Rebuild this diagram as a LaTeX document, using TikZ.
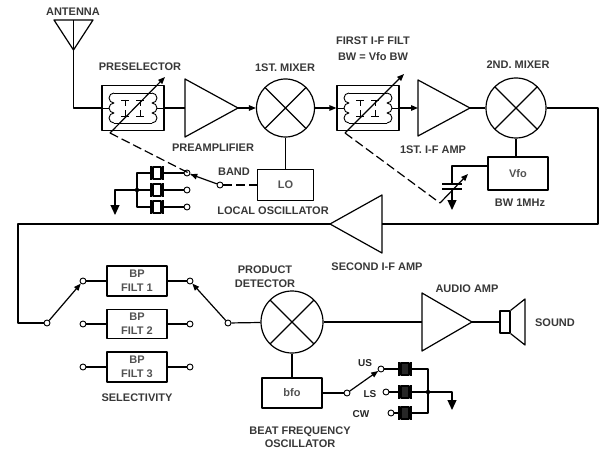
\documentclass[tikz,border=0pt]{standalone}
\usepackage{fontspec}
\setmainfont{Liberation Sans}
\usetikzlibrary{arrows.meta,calc}
\tikzset{
 tank/.pic={
  \draw (-19,-15) -- (19,-15) (-19,15) -- (19,15);
  \draw (-19,-15) arc[start angle=270,end angle=90,radius=5] arc[start angle=270,end angle=90,radius=5] arc[start angle=270,end angle=90,radius=5];
  \draw (19,-15) arc[start angle=-90,end angle=90,radius=5] arc[start angle=-90,end angle=90,radius=5] arc[start angle=-90,end angle=90,radius=5];
  \draw (-31,0) -- (-24,0) (24,0) -- (31,0);
  \draw (-12,-8) -- (-4,-8) (-8,-8) -- (-8,-2) (-12,8) -- (-4,8) (-8,8) -- (-8,2);
  \draw (3,-8) -- (11,-8) (7,-8) -- (7,-2) (3,8) -- (11,8) (7,8) -- (7,2);
 },
 xtal/.pic={
  \draw[fill=#1] (-4,-6) rectangle (4,6);
  \draw (-6,-7) -- (-6,7) (6,-7) -- (6,7);
  \coordinate (-l) at (-6,0);
  \coordinate (-r) at (6,0);
 }
}
\begin{document}
\begin{tikzpicture}[x=1pt,y=-1pt,line width=1.2pt,line join=round,
 lbl/.style={inner sep=0pt,align=center,text=black!78,font=\fontsize{11}{13.5}\selectfont\bfseries},
 sm/.style={inner sep=0pt,text=black!85,font=\fontsize{10}{12}\selectfont\bfseries},
 box/.style={draw,inner sep=0pt,align=center,text=black!68,font=\fontsize{11}{14}\selectfont\bfseries},
 filt/.style={draw,inner sep=0pt,minimum width=62pt,minimum height=45pt},
 mixer/.style={draw,circle,inner sep=0pt,minimum size=#1,
   path picture={\draw (path picture bounding box.north west) -- (path picture bounding box.south east)
                       (path picture bounding box.north east) -- (path picture bounding box.south west);}},
 contact/.style={draw,circle,fill=white,inner sep=0pt,minimum size=6pt,line width=0.9pt},
 jdot/.style={circle,fill,inner sep=0pt,minimum size=4.5pt},
 tip/.style={-{Triangle[length=7pt,width=5.5pt]}},
 gnd/.style={-{Triangle[length=10pt,width=9pt]}},
 link/.style={dash pattern=on 9pt off 4pt}]
\useasboundingbox (0,0) rectangle (607,457);

% ---------- antenna and preselector
\coordinate (antTop) at (73.5,20);
\coordinate (antBend) at (73.5,108);
\draw (54,20) -- (93,20) -- (73.5,50) -- cycle;
\node[lbl] (antL) at (73,12) {ANTENNA};
\node[filt] (pres) at (133,108) {};
\pic[line width=0.9pt] at (pres.center) {tank};
\draw (antTop) -- (antBend) -- (pres.west);
\coordinate (presA) at ($(pres.center)+(-23,25)$);
\coordinate (presB) at ($(pres.center)+(32,-31)$);
\draw[tip] (presA) -- (presB);
\node[lbl] (presL) at (140,67) {PRESELECTOR};

% ---------- preamplifier
\coordinate (paIn) at (185,108);
\coordinate (paOut) at (238,108);
\draw (paIn) ++(0,-29) -- ++(0,58) -- (paOut) -- cycle;
\draw (pres.east) -- (paIn);
\node[lbl] (paL) at (213,148) {PREAMPLIFIER};

% ---------- 1st mixer and LO
\node[mixer=58pt] (m1) at (285.5,108) {};
\node[lbl] (m1L) at (285,68) {1ST. MIXER};
\draw[tip] (paOut) -- (m1);
\node[box,minimum width=56pt,minimum height=31pt] (lo) at (285.5,185) {LO};
\draw (m1) -- (lo);
\node[lbl] (loL) at (273,211) {LOCAL OSCILLATOR};

% ---------- band switch
\pic (xa) at (157,173) {xtal=white};
\pic (xb) at (157,190) {xtal=white};
\pic (xc) at (157,207) {xtal=white};
\coordinate (bj) at (137,190);
\coordinate (g1) at (115,190);
\coordinate (g1tip) at (115,215);
\draw (xa-l) -| (bj);
\draw (xc-l) -| (bj);
\draw (xb-l) -- (bj);
\node[jdot] (bjd) at (bj) {};
\draw[gnd] (bj) -- (g1) -- (g1tip);
\node[contact] (ba) at (187,173) {};
\node[contact] (bb) at (187,190) {};
\node[contact] (bc) at (187,207) {};
\draw (xa-r) -- (ba);
\draw (xb-r) -- (bb);
\draw (xc-r) -- (bc);
\node[contact] (bp) at (220,185) {};
\draw[tip] (bp) -- (ba);
\draw[link] (bp) -- (lo);
\coordinate (armpt) at ($(bp)!0.82!(ba)$);
\draw[link] (presA) -- (armpt);
\node[lbl] (bandL) at (234,172) {BAND};

% ---------- first IF filter, IF amp
\node[filt] (if1) at (368,108) {};
\pic[line width=0.9pt] at (if1.center) {tank};
\coordinate (if1A) at ($(if1.center)+(-23,25)$);
\coordinate (if1B) at ($(if1.center)+(36,-34)$);
\draw[tip] (if1A) -- (if1B);
\draw[tip] (m1) -- (if1);
\node[lbl,font=\fontsize{11}{16}\selectfont\bfseries] (if1L) at (373,49) {FIRST I-F FILT\\BW = Vfo BW};
\coordinate (ia1In) at (418,108);
\coordinate (ia1Out) at (470,108);
\draw (ia1In) ++(0,-28) -- ++(0,56) -- (ia1Out) -- cycle;
\draw[tip] (if1) -- (ia1In);
\node[lbl] (ia1L) at (433,150) {1ST. I-F AMP};

% ---------- 2nd mixer, Vfo, variable capacitor
\node[mixer=60pt] (m2) at (516,108) {};
\node[lbl] (m2L) at (518,65) {2ND. MIXER};
\draw (ia1Out) -- (m2);
\node[box,minimum width=60pt,minimum height=33pt] (vfo) at (518,173.5) {Vfo};
\draw (m2.south) -- (m2.south |- vfo.north);
\node[lbl] (bwL) at (520,203) {BW 1MHz};
\coordinate (vct) at (452,166);
\coordinate (vcp1) at (452,184);
\coordinate (vcp2) at (452,189);
\coordinate (vcg) at (452,210);
\draw (vct -| vfo.west) -- (vct) -- (vcp1);
\draw (442,184) -- (462,184) (442,189) -- (462,189);
\draw[gnd] (vcp2) -- (vcg);
\coordinate (vcA) at (440,203);
\coordinate (vcB) at (468,174);
\draw[tip] (vcA) -- (vcB);
\draw[link] (if1A) -- (vcA);

% ---------- second IF amp and return path
\coordinate (rc) at (598,224);
\coordinate (a2In) at (382,224);
\coordinate (a2Out) at (330,224);
\draw (a2In) ++(0,-29) -- ++(0,58) -- (a2Out) -- cycle;
\draw (m2.east) -| (rc) -- (a2In);
\node[lbl] (a2L) at (377,267) {SECOND I-F AMP};
\coordinate (lc) at (18,323);

% ---------- selectivity
\node[contact] (slp) at (47,323) {};
\draw (a2Out) -| (lc) -- (slp);
\node[contact] (s1l) at (83,281) {};
\node[contact] (s2l) at (83,324) {};
\node[contact] (s3l) at (83,367) {};
\node[box,minimum width=60pt,minimum height=30pt] (bp1) at (137,281) {BP\\FILT 1};
\node[box,minimum width=60pt,minimum height=29pt] (bp2) at (137,324) {BP\\FILT 2};
\node[box,minimum width=60pt,minimum height=30pt] (bp3) at (137,367) {BP\\FILT 3};
\node[contact] (s1r) at (190,281) {};
\node[contact] (s2r) at (190,324) {};
\node[contact] (s3r) at (190,367) {};
\draw (s1l) -- (bp1) -- (s1r);
\draw (s2l) -- (bp2) -- (s2r);
\draw (s3l) -- (bp3) -- (s3r);
\node[contact] (srp) at (228,323) {};
\draw[tip] (slp) -- (s1l);
\draw[tip] (srp) -- (s1r);
\node[lbl] (selL) at (137,398) {SELECTIVITY};

% ---------- product detector, bfo
\node[mixer=62pt] (pd) at (292,322) {};
\draw (srp) -- (pd);
\node[lbl] (pdL) at (265,276.5) {PRODUCT\\DETECTOR};
\node[box,minimum width=60pt,minimum height=30pt] (bfo) at (292,393) {bfo};
\draw (pd) -- (bfo);
\node[lbl,font=\fontsize{11}{13}\selectfont\bfseries] (bfoL) at (300,437.5) {BEAT FREQUENCY\\OSCILLATOR};
\node[contact] (bfp) at (347,393) {};
\draw (bfo) -- (bfp);
\node[contact] (cus) at (381,369) {};
\node[contact] (cls) at (386,392) {};
\node[contact] (ccw) at (391,413) {};
\draw[tip] (bfp) -- (cus);
\node[sm] (usL) at (365,363) {US};
\node[sm] (lsL) at (370,394) {LS};
\node[sm] (cwL) at (361,414) {CW};
\pic (xu) at (405,369) {xtal=black!85};
\pic (xl) at (405,392) {xtal=black!85};
\pic (xw) at (405,413) {xtal=black!85};
\draw (cus) -- (xu-l);
\draw (cls) -- (xl-l);
\draw (ccw) -- (xw-l);
\coordinate (bj2) at (428,392);
\coordinate (g2) at (452,392);
\coordinate (g2tip) at (452,410);
\draw (xu-r) -| (bj2);
\draw (xw-r) -| (bj2);
\draw (xl-r) -- (bj2);
\node[jdot] (bj2d) at (bj2) {};
\draw[gnd] (bj2) -- (g2) -- (g2tip);

% ---------- audio amp and speaker
\coordinate (aaIn) at (422,322);
\coordinate (aaOut) at (472,322);
\draw (aaIn) ++(0,-29) -- ++(0,58) -- (aaOut) -- cycle;
\draw (pd) -- (aaIn);
\node[lbl] (aaL) at (467,289) {AUDIO AMP};
\node[draw,inner sep=0pt,minimum width=10pt,minimum height=22pt] (spk) at (505,322) {};
\draw (spk.north east) -- (525,299) -- (525,345) -- (spk.south east);
\draw (aaOut) -- (spk);
\node[lbl] (sndL) at (555,323) {SOUND};
\end{tikzpicture}
\end{document}
